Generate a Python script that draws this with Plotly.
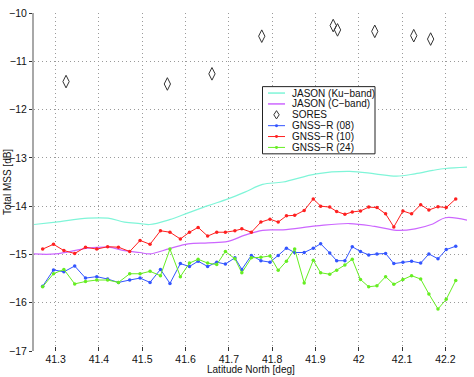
import plotly.graph_objects as go

# GNSS-R track latitudes [deg] and total MSS [dB]
lat_gnss = [41.270, 41.295, 41.319, 41.344, 41.369, 41.395, 41.420, 41.445, 41.471, 41.495,
            41.518, 41.542, 41.564, 41.588, 41.609, 41.629, 41.651, 41.672, 41.692, 41.714,
            41.730, 41.752, 41.774, 41.795, 41.814, 41.833, 41.852, 41.874, 41.895, 41.912,
            41.933, 41.949, 41.968, 41.985, 42.004, 42.023, 42.042, 42.062, 42.081, 42.102,
            42.122, 42.143, 42.162, 42.183, 42.202, 42.224]

gnss_08 = [-15.66, -15.32, -15.36, -15.24, -15.49, -15.46, -15.51, -15.58, -15.53, -15.49,
           -15.58, -15.31, -15.60, -15.19, -15.25, -15.14, -15.25, -15.16, -15.20, -15.07,
           -15.31, -15.02, -15.13, -15.16, -15.02, -14.87, -14.96, -14.96, -14.87, -14.78,
           -14.97, -15.13, -15.13, -14.84, -14.94, -15.01, -14.99, -14.98, -15.19, -15.16,
           -15.14, -15.18, -14.99, -15.09, -14.90, -14.83]

gnss_10 = [-14.89, -14.79, -14.92, -14.98, -14.85, -14.89, -14.84, -14.85, -14.94, -14.71,
           -14.79, -14.51, -14.54, -14.68, -14.54, -14.44, -14.62, -14.54, -14.54, -14.51,
           -14.47, -14.54, -14.33, -14.27, -14.33, -14.20, -14.19, -14.09, -13.85, -14.00,
           -14.02, -14.11, -14.17, -14.12, -14.10, -14.02, -14.03, -14.16, -14.43, -14.10,
           -14.16, -13.97, -14.08, -14.01, -14.03, -13.85]

gnss_24 = [-15.67, -15.40, -15.31, -15.61, -15.56, -15.53, -15.53, -15.58, -15.40, -15.40,
           -15.35, -15.44, -14.89, -15.46, -15.18, -15.10, -15.18, -15.21, -14.94, -15.09,
           -15.38, -15.07, -15.06, -15.03, -15.33, -15.14, -14.89, -15.59, -15.12, -15.38,
           -15.41, -15.33, -15.22, -15.10, -15.52, -15.67, -15.65, -15.46, -15.62, -15.52,
           -15.44, -15.51, -15.82, -16.13, -15.93, -15.54]

# JASON altimeter
lat_jason = [41.250, 41.300, 41.375, 41.421, 41.459, 41.495, 41.517, 41.563, 41.606, 41.652,
             41.698, 41.737, 41.778, 41.825, 41.902, 41.979, 42.037, 42.087, 42.130, 42.171,
             42.200, 42.250]
jason_ku = [-14.38, -14.33, -14.25, -14.25, -14.33, -14.36, -14.38, -14.28, -14.14, -13.99,
            -13.85, -13.71, -13.55, -13.50, -13.33, -13.28, -13.33, -13.38, -13.33, -13.26,
            -13.22, -13.19]
jason_c = [-14.99, -14.99, -14.87, -14.85, -14.92, -14.96, -14.99, -14.88, -14.78, -14.76,
           -14.73, -14.60, -14.50, -14.49, -14.41, -14.36, -14.42, -14.50, -14.47, -14.37,
           -14.24, -14.29]

# SORES
lat_sores = [41.324, 41.558, 41.661, 41.776, 41.941, 41.951, 42.037, 42.127, 42.166]
sores = [-11.42, -11.47, -11.26, -10.48, -10.26, -10.35, -10.38, -10.47, -10.54]

names = ["JASON (Ku\u2212band)", "JASON (C\u2212band)", "SORES",
         "GNSS\u2212R (08)", "GNSS\u2212R (10)", "GNSS\u2212R (24)"]
colors = ["#7ff5d8", "#cc66ff", "#333333", "#3355ff", "#ff2020", "#66ee22"]

x_ticks = [41.3, 41.4, 41.5, 41.6, 41.7, 41.8, 41.9, 42.0, 42.1, 42.2]
x_ticktext = ["41.3", "41.4", "41.5", "41.6", "41.7", "41.8", "41.9", "42", "42.1", "42.2"]
y_ticks = [-17, -16, -15, -14, -13, -12, -11, -10]

FONT = "Liberation Sans, Arial, Helvetica, sans-serif"

fig = go.Figure()

fig.add_trace(go.Scatter(x=lat_jason, y=jason_ku, mode='lines', name=names[0],
                         line=dict(color=colors[0], width=1.2, shape='spline')))
fig.add_trace(go.Scatter(x=lat_jason, y=jason_c, mode='lines', name=names[1],
                         line=dict(color=colors[1], width=1.2, shape='spline')))
fig.add_trace(go.Scatter(x=lat_sores, y=sores, mode='markers', name=names[2],
                         marker=dict(symbol='diamond-tall-open', size=9,
                                     color=colors[2], line=dict(width=1, color=colors[2]))))
for name, vals, col in zip(names[3:], [gnss_08, gnss_10, gnss_24], colors[3:]):
    fig.add_trace(go.Scatter(x=lat_gnss, y=vals, mode='lines+markers', name=name,
                             line=dict(color=col, width=1),
                             marker=dict(size=3.5, color=col)))

# legend drawn by hand so the rows stay as tight as in the original
L, R, T, B = 34, 7, 9, 26
W, H = 474 - L - R, 377 - T - B
px = lambda v: (v - L) / W
py = lambda v: (377 - B - v) / H

shapes = [dict(type='rect', xref='paper', yref='paper',
               x0=px(262.5), x1=px(375), y0=py(151.5), y1=py(83.5),
               line=dict(color='#222', width=1), fillcolor='white', layer='above')]
annotations = []
row_y = [90, 101, 112, 123, 134, 145]
for i, (name, col) in enumerate(zip(names, colors)):
    yy = py(row_y[i])
    if i != 2:
        shapes.append(dict(type='line', xref='paper', yref='paper',
                           x0=px(268), x1=px(285), y0=yy, y1=yy,
                           line=dict(color=col, width=1.5 if i < 2 else 1), layer='above'))
    if i >= 3:
        cx, cy = px(276.5), yy
        rx, ry = 1.5 / W, 1.5 / H
        shapes.append(dict(type='circle', xref='paper', yref='paper',
                           x0=cx - rx, x1=cx + rx, y0=cy - ry, y1=cy + ry,
                           line=dict(color=col, width=0), fillcolor=col, layer='above'))
    if i == 2:
        cx, cy = px(276.5), yy
        dx, dy = 2.7 / W, 4.2 / H
        shapes.append(dict(type='path', xref='paper', yref='paper',
                           path=f"M {cx},{cy + dy} L {cx + dx},{cy} L {cx},{cy - dy} L {cx - dx},{cy} Z",
                           line=dict(color=col, width=1), layer='above'))
    annotations.append(dict(x=px(289.5), y=yy, xref='paper', yref='paper', text=name,
                            showarrow=False, xanchor='left', yanchor='middle',
                            font=dict(family=FONT, size=10, color='#111')))

# axis titles
annotations.append(dict(x=px(251), y=py(370), xref='paper', yref='paper',
                        text='Latitude North [deg]', showarrow=False,
                        xanchor='center', yanchor='middle',
                        font=dict(family=FONT, size=10, color='#111')))
annotations.append(dict(x=px(7), y=0.5, xref='paper', yref='paper',
                        text='Total MSS [dB]', showarrow=False, textangle=-90,
                        xanchor='center', yanchor='middle',
                        font=dict(family=FONT, size=10, color='#111')))

fig.update_layout(
    width=474, height=377,
    margin=dict(l=L, r=R, t=T, b=B),
    paper_bgcolor='white', plot_bgcolor='white',
    showlegend=False,
    font=dict(family=FONT, size=10.5, color='#111'),
    shapes=shapes, annotations=annotations,
    xaxis=dict(range=[41.25, 42.25], tickvals=x_ticks, ticktext=x_ticktext,
               ticks='inside', ticklen=4, tickcolor='#333',
               showgrid=True, gridcolor='#9a9a9a', griddash='1px,3px', gridwidth=1,
               zeroline=False, showline=False),
    yaxis=dict(range=[-17, -10], tickvals=y_ticks,
               ticks='outside', ticklen=3, tickcolor='#333',
               showgrid=True, gridcolor='#9a9a9a', griddash='1px,3px', gridwidth=1,
               zeroline=False, showline=True, linecolor='#a8a8a8', linewidth=2),
)

# the page's default body margin would shift the figure by 8px
fig.write_html("out.html", config={'displayModeBar': False},
               post_script="document.body.style.margin = '0';")
